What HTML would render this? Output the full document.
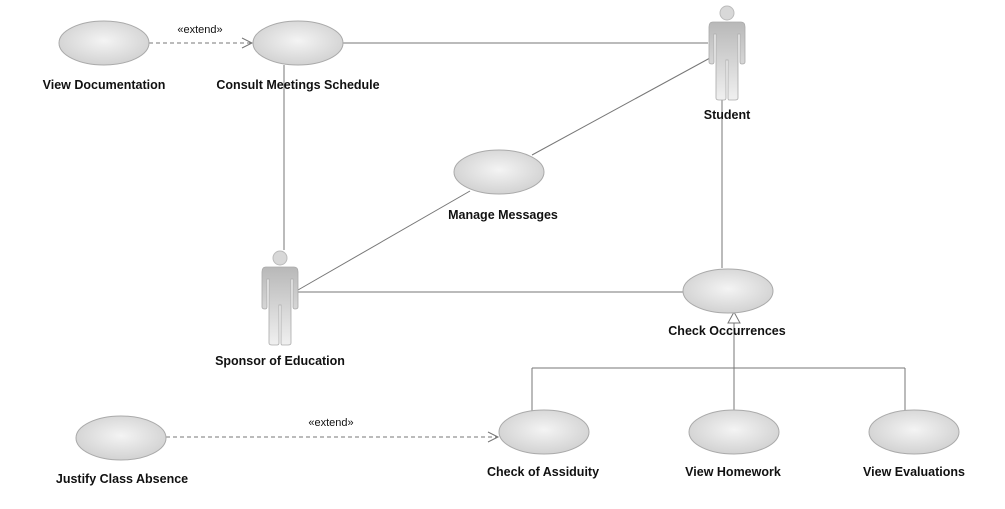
<!DOCTYPE html>
<html><head><meta charset="utf-8"><style>
html,body{margin:0;padding:0;background:#fff;}
svg{display:block;}
text{font-family:"Liberation Sans","DejaVu Sans",sans-serif;font-weight:bold;font-size:12.5px;fill:#111;}
.s{font-weight:normal;font-size:11px;}
</style></head><body>
<svg width="1005" height="509" viewBox="0 0 1005 509" xmlns="http://www.w3.org/2000/svg">
<defs>
<radialGradient id="g" cx="50%" cy="45%" r="60%">
<stop offset="0" stop-color="#f4f4f4"/><stop offset="1" stop-color="#cfcfcf"/>
</radialGradient>
<linearGradient id="a" x1="0" y1="0" x2="0" y2="1">
<stop offset="0" stop-color="#b8b8b8"/><stop offset="1" stop-color="#f0f0f0"/>
</linearGradient>
<g id="actor">
<circle cx="0" cy="-9" r="7" fill="#d8d8d8" stroke="#bbb"/>
<path d="M-14,0 H14 Q18,0 18,5 V40 Q18,42 15,42 Q13,42 13,40 V12 H11 V76 Q11,78 8,78 H2 Q1,78 1,76 V38 H-1 V76 Q-1,78 -3,78 H-8 Q-11,78 -11,76 V12 H-13 V40 Q-13,42 -15,42 Q-18,42 -18,40 V5 Q-18,0 -14,0 Z" fill="url(#a)" stroke="#aaa" stroke-width="0.8"/>
</g>
</defs>
<g stroke="#777" stroke-width="1" fill="none">
<line x1="343" y1="43" x2="708" y2="43"/>
<line x1="284" y1="65" x2="284" y2="250"/>
<line x1="710" y1="58" x2="532" y2="155"/>
<line x1="298" y1="290" x2="470" y2="191"/>
<line x1="298" y1="292" x2="683" y2="292"/>
<line x1="722" y1="100" x2="722" y2="268"/>
<line x1="734" y1="323" x2="734" y2="368"/>
<line x1="532" y1="368" x2="905" y2="368"/>
<line x1="532" y1="368" x2="532" y2="411"/>
<line x1="734" y1="368" x2="734" y2="411"/>
<line x1="905" y1="368" x2="905" y2="411"/>
<path d="M734,312 L728,323 L740,323 Z" fill="#fff"/>
<line x1="149" y1="43" x2="252" y2="43" stroke-dasharray="4,3"/>
<path d="M242,38 L252,43 L242,48"/>
<line x1="166" y1="437" x2="498" y2="437" stroke-dasharray="4,3"/>
<path d="M488,432 L498,437 L488,442"/>
</g>
<g fill="url(#g)" stroke="#aaa" stroke-width="1">
<ellipse cx="104" cy="43" rx="45" ry="22"/>
<ellipse cx="298" cy="43" rx="45" ry="22"/>
<ellipse cx="499" cy="172" rx="45" ry="22"/>
<ellipse cx="728" cy="291" rx="45" ry="22"/>
<ellipse cx="121" cy="438" rx="45" ry="22"/>
<ellipse cx="544" cy="432" rx="45" ry="22"/>
<ellipse cx="734" cy="432" rx="45" ry="22"/>
<ellipse cx="914" cy="432" rx="45" ry="22"/>
</g>
<use href="#actor" x="727" y="22"/>
<use href="#actor" x="280" y="267"/>
<g text-anchor="middle">
<text class="s" x="200" y="33">«extend»</text>
<text class="s" x="331" y="426">«extend»</text>
<text x="104" y="89">View Documentation</text>
<text x="298" y="89">Consult Meetings Schedule</text>
<text x="727" y="119">Student</text>
<text x="503" y="219">Manage Messages</text>
<text x="280" y="365">Sponsor of Education</text>
<text x="727" y="335">Check Occurrences</text>
<text x="122" y="483">Justify Class Absence</text>
<text x="543" y="476">Check of Assiduity</text>
<text x="733" y="476">View Homework</text>
<text x="914" y="476">View Evaluations</text>
</g>
</svg>
</body></html>
